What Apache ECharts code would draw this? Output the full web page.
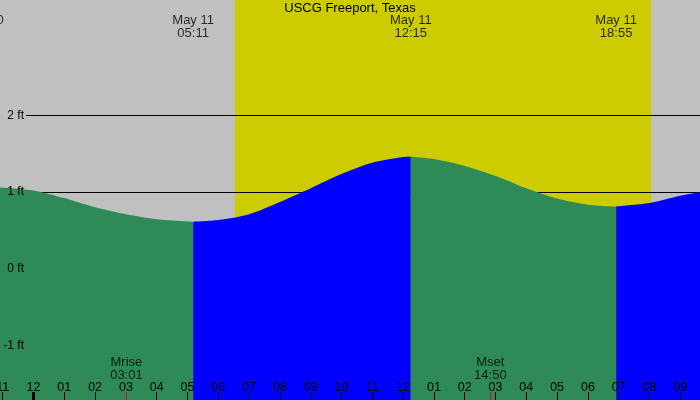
<!DOCTYPE html>
<html>
<head>
<meta charset="utf-8">
<script src="https://cdn.jsdelivr.net/npm/echarts@6/dist/echarts.min.js"></script>
<style>html,body{margin:0;padding:0;background:#c0c0c0}#c{width:700px;height:400px}</style>
</head>
<body>
<div id="c"></div>
<script>
// Tide readings (hours from midnight May 11, feet)
const tideHours = [-1.09, 0, 1, 2, 3, 4, 5, 5.183, 6, 7, 8, 9, 10, 11, 12, 12.25, 13, 14, 15, 16, 17, 18, 18.917, 20, 21, 21.64];
const tideFeet  = [1.06, 1.02, 0.92, 0.80, 0.71, 0.645, 0.615, 0.613, 0.635, 0.71, 0.87, 1.05, 1.235, 1.38, 1.455, 1.46, 1.43, 1.34, 1.21, 1.05, 0.915, 0.835, 0.81, 0.855, 0.95, 1.00];
// Segment boundaries (tide extremes) and colours (falling green, rising blue)
const segBounds = [-1.09, 5.183, 12.25, 18.917, 21.64];
const segColors = ['#2e8b57', '#0000ff', '#2e8b57', '#0000ff'];
// Tide extreme labels
const extremeHours = [-1.66, 5.183, 12.25, 18.917];
const extremeLabels = ['May 10\n22:20', 'May 11\n05:11', 'May 11\n12:15', 'May 11\n18:55'];
// Moon events
const moonHours = [3.017, 14.833];
const moonLabels = ['Mrise\n03:01', 'Mset\n14:50'];
// Daylight
const sunrise = 6.542, sunset = 20.05;
// Axis ranges / ticks
const xMin = -1.088, xMax = 21.64;
const yMin = -1.712, yMax = 3.503;
const hourTicks = [-1,0,1,2,3,4,5,6,7,8,9,10,11,12,13,14,15,16,17,18,19,20,21];
const feetTicks = [-1, 0, 1, 2];
const refLines = [1, 2];

const FONT = 'Liberation Sans';
const tickTop = -1.608;

function hourLabel(v) {
  let h = ((Math.round(v) % 12) + 12) % 12;
  if (h === 0) h = 12;
  return (h < 10 ? '0' : '') + h;
}

const series = [];
// background: daylight band and reference lines
series.push({
  type: 'line', data: [], z: 1, silent: true,
  markArea: { silent: true, z: 0, itemStyle: { color: '#cccc00' }, data: [[{ xAxis: sunrise }, { xAxis: sunset }]] },
  markLine: {
    silent: true, z: 1, symbol: 'none', label: { show: false },
    lineStyle: { color: '#000', width: 1, type: 'solid' },
    data: refLines.map(v => [{ coord: [-0.24, v] }, { coord: [xMax, v] }])
  }
});
// tide segments
for (let s = 0; s < segColors.length; s++) {
  const pts = [];
  for (let i = 0; i < tideHours.length; i++) {
    if (tideHours[i] >= segBounds[s] && tideHours[i] <= segBounds[s + 1]) pts.push([tideHours[i], tideFeet[i]]);
  }
  series.push({
    type: 'line', z: 3, silent: true, data: pts, showSymbol: false, symbol: 'none',
    smooth: 0.3,
    lineStyle: { width: 0 }, areaStyle: { color: segColors[s], opacity: 1, origin: 'start' }, itemStyle: { color: segColors[s] }
  });
}
// extreme labels at top
series.push({
  type: 'scatter', z: 20, silent: true, clip: false, symbolSize: 0,
  data: extremeHours.map((h, i) => ({ value: [h, yMax], name: extremeLabels[i] })),
  label: { show: true, position: 'bottom', distance: 13.5, formatter: p => p.name, color: '#000', fontFamily: FONT, fontSize: 13, lineHeight: 13 }
});
// moon labels at bottom + ticks
series.push({
  type: 'scatter', z: 20, silent: true, clip: false, symbolSize: 0,
  data: moonHours.map((h, i) => ({ value: [h, yMin], name: moonLabels[i] })),
  label: { show: true, position: 'top', distance: 18.5, formatter: p => p.name, color: '#000', fontFamily: FONT, fontSize: 13, lineHeight: 13 },
  markLine: {
    silent: true, z: 21, symbol: 'none', label: { show: false },
    data: [
      [{ coord: [0, yMin], lineStyle: { color: '#000', width: 3, type: 'solid' } }, { coord: [0, tickTop] }]
    ].concat(moonHours.map(h => [{ coord: [h, yMin], lineStyle: { color: '#ff0000', width: 1, type: 'solid' } }, { coord: [h, tickTop] }]))
  }
});

const chart = echarts.init(document.getElementById('c'));
chart.setOption({
  backgroundColor: '#c0c0c0',
  animation: false,
  title: { text: 'USCG Freeport, Texas', left: 'center', top: 2, padding: 0, textStyle: { fontFamily: FONT, fontSize: 13, fontWeight: 'normal', color: '#000' } },
  grid: { left: 0, right: 0, top: 0, bottom: 0, containLabel: false, outerBoundsMode: 'none' },
  xAxis: {
    type: 'value', min: xMin, max: xMax, z: 10,
    axisLine: { show: false, onZero: false },
    splitLine: { show: false },
    axisTick: { show: true, inside: true, length: 8, lineStyle: { color: '#000', width: 1 }, customValues: hourTicks },
    axisLabel: { show: true, inside: true, margin: 6, color: '#000', fontFamily: FONT, fontSize: 12.5, customValues: hourTicks, formatter: hourLabel, showMinLabel: true, showMaxLabel: true, hideOverlap: false }
  },
  yAxis: {
    type: 'value', min: yMin, max: yMax, z: 10,
    axisLine: { show: false }, splitLine: { show: false }, axisTick: { show: false },
    axisLabel: { show: true, inside: true, align: 'right', margin: 24, color: '#000', fontFamily: FONT, fontSize: 12, customValues: feetTicks, formatter: v => v + ' ft' }
  },
  series: series
});
</script>
</body>
</html>
